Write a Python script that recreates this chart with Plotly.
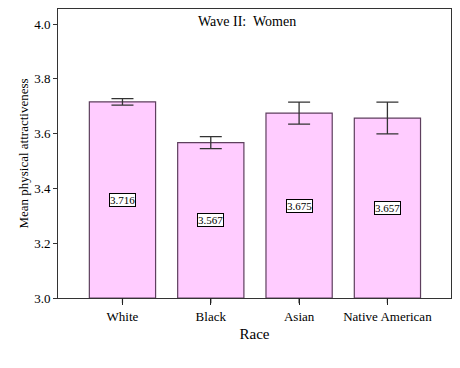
import plotly.graph_objects as go

categories = ["White", "Black", "Asian", "Native American"]
means = [3.716, 3.567, 3.675, 3.657]
errors = [0.012, 0.022, 0.040, 0.058]
value_labels = ["3.716", "3.567", "3.675", "3.657"]
y_ticks = [3.0, 3.2, 3.4, 3.6, 3.8, 4.0]
y_base = 3.0

FONT = "Liberation Serif"

fig = go.Figure()
fig.add_trace(go.Bar(
    x=categories,
    y=[m - y_base for m in means],
    base=y_base,
    width=0.75,
    marker=dict(color="#FFCCFF", line=dict(color="#5E3F5E", width=1.2)),
    error_y=dict(type="data", array=errors, visible=True, color="#333333",
                 thickness=1.3, width=11),
    hoverinfo="skip",
))

for cat, m, lab in zip(categories, means, value_labels):
    fig.add_annotation(
        x=cat, y=(y_base + m) / 2, text=lab, showarrow=False,
        font=dict(family=FONT, size=11, color="#000"),
        bgcolor="white", bordercolor="#000", borderwidth=1, borderpad=0,
    )
    # category tick mark below the axis
    fig.add_shape(type="line", xref="x", yref="paper", x0=cat, x1=cat,
                  y0=0, y1=-0.018, line=dict(color="#222", width=1.2))

fig.add_annotation(
    xref="paper", yref="paper", x=0.481, y=0.99, xanchor="center", yanchor="top",
    text="Wave II:  Women", showarrow=False,
    font=dict(family=FONT, size=14, color="#000"),
)

fig.update_layout(
    width=460, height=368,
    margin=dict(l=58, r=9, t=9, b=70),
    paper_bgcolor="white", plot_bgcolor="white",
    showlegend=False,
    font=dict(family=FONT, color="#000"),
    xaxis=dict(
        type="category",
        range=[-0.73, 3.72], automargin=False,
        showline=True, linecolor="#333", linewidth=1, mirror=True,
        ticks="outside", ticklen=6, tickcolor="#222", tickwidth=1.2,
        tickfont=dict(family=FONT, size=13),
        title=dict(text="Race", font=dict(family=FONT, size=15), standoff=5),
        showgrid=False,
    ),
    yaxis=dict(
        range=[3.0, 4.055], automargin=False,
        tickvals=y_ticks, ticktext=[f"{v:.1f}" for v in y_ticks],
        showline=True, linecolor="#333", linewidth=1, mirror=True,
        ticks="outside", ticklen=4, tickcolor="#333",
        tickfont=dict(family=FONT, size=13),
        title=dict(text="Mean physical attractiveness", font=dict(family=FONT, size=13), standoff=2),
        showgrid=False, zeroline=False,
    ),
)

fig.write_html("out.html", config={"displayModeBar": False},
               post_script="document.body.style.margin='0';document.body.style.overflow='hidden';")
